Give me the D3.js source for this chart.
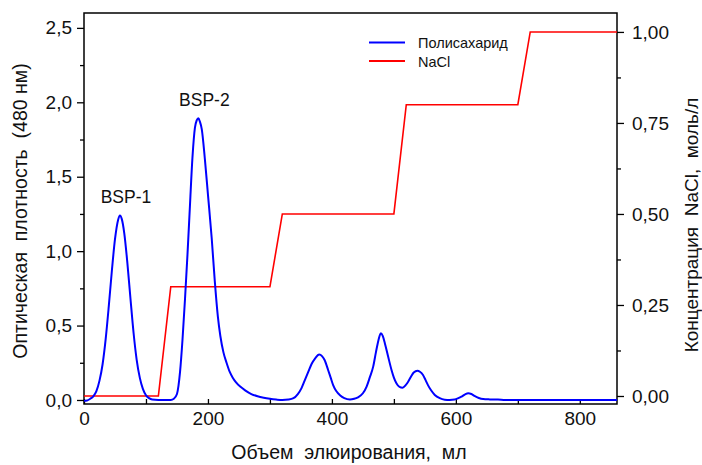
<!DOCTYPE html>
<html>
<head>
<meta charset="utf-8">
<script src="https://cdn.jsdelivr.net/npm/d3@7"></script>
<style>
  body { margin: 0; background: #fff; }
  text { font-family: "Liberation Sans", Arial, sans-serif; fill: #111; }
  .title { white-space: pre; }
</style>
</head>
<body>
<div id="chart"></div>
<script>
// elution volume (ml) and optical density of the polysaccharide
const volume = [0, 5, 10, 15, 20, 25, 30, 35, 40, 45, 50, 55, 58, 61, 65, 70, 75, 80, 85, 90, 95, 100, 105, 110, 120,
  130, 140, 145, 150, 155, 159, 163, 167, 171, 175, 179, 182, 184.5, 187, 190, 195, 200, 206, 211, 216, 220, 225, 230,
  235, 240, 245, 252, 260, 270, 280, 290, 300, 310, 320, 330, 338, 345, 351, 356, 362, 367, 373, 379.5, 384, 388, 394,
  398, 402, 407, 413, 420, 429, 436, 442, 450, 456, 461, 466.6, 471, 475, 479, 482, 485.5, 490.8, 496.3, 500, 504.3,
  509, 514, 519, 523, 528, 532, 538, 542, 547, 551, 555, 560, 566, 574, 582, 590, 598, 604, 609, 615, 620, 625, 630,
  637, 644, 655, 668, 680, 700, 860];
const density = [-0.005, -0.003, 0.008, 0.025, 0.06, 0.13, 0.24, 0.41, 0.63, 0.87, 1.08, 1.21, 1.24, 1.215, 1.12, 0.92,
  0.68, 0.45, 0.27, 0.15, 0.075, 0.032, 0.012, 0.003, 0,
  0, 0, 0.008, 0.04, 0.19, 0.41, 0.68, 0.98, 1.31, 1.63, 1.83, 1.88, 1.893, 1.87, 1.82, 1.62, 1.38, 1.09, 0.8, 0.56,
  0.43, 0.32, 0.25, 0.19, 0.15, 0.12, 0.09, 0.065, 0.04, 0.025, 0.015, 0.008, 0.003, 0, 0.003, 0.012, 0.04, 0.08,
  0.13, 0.19, 0.24, 0.28, 0.305, 0.295, 0.27, 0.2, 0.15, 0.1, 0.06, 0.032, 0.012, 0.003, 0.008, 0.018, 0.045, 0.09,
  0.15, 0.224, 0.32, 0.4, 0.448, 0.43, 0.38, 0.29, 0.2, 0.15, 0.11, 0.088, 0.083, 0.1, 0.123, 0.16, 0.185, 0.197,
  0.19, 0.168, 0.135, 0.1, 0.065, 0.034, 0.012, 0.002, 0, 0.003, 0.012, 0.022, 0.038, 0.045, 0.04, 0.027, 0.013,
  0.006, 0.004, 0.003, 0, 0, 0];

// NaCl step gradient
const naclVolume = [0, 120, 140, 300, 320, 500, 520, 700, 720, 860];
const naclConc = [0, 0, 0.3, 0.3, 0.5, 0.5, 0.8, 0.8, 1.0, 1.0];

const xTicks = [0, 100, 200, 300, 400, 500, 600, 700, 800];
const leftTicks = [0, 0.5, 1.0, 1.5, 2.0, 2.5];
const leftMinor = [0.25, 0.75, 1.25, 1.75, 2.25];
const rightTicks = [0, 0.25, 0.5, 0.75, 1.0];
const rightMinor = [0.125, 0.375, 0.625, 0.875];

const peakNames = ["BSP-1", "BSP-2"];
const peakAt = [[58, 1.24], [184.5, 1.893]];

let svgWidth = 702, svgHeight = 465;
let margin = {top: 13, right: 85, bottom: 61, left: 84};
let w = svgWidth - margin.left - margin.right;
let h = svgHeight - margin.top - margin.bottom;

let svg = d3.select("#chart").append("svg")
  .attr("width", svgWidth)
  .attr("height", svgHeight);
let g = svg.append("g").attr("transform", `translate(${margin.left},${margin.top})`);

let x = d3.scaleLinear().domain([0, 860]).range([0, w]);
let yL = d3.scaleLinear().domain([-0.027, 2.6]).range([h, 0]);
let yR = d3.scaleLinear().domain([-0.022, 1.052]).range([h, 0]);

const comma = f => d => d3.format(f)(d).replace(".", ",");

// left axis
g.append("g").call(d3.axisLeft(yL).tickValues(leftTicks).tickSize(7).tickPadding(5).tickFormat(comma(".1f")));
g.append("g").call(d3.axisLeft(yL).tickValues(leftMinor).tickSize(4).tickFormat(""));
// right axis
g.append("g").attr("transform", `translate(${w},0)`)
  .call(d3.axisRight(yR).tickValues(rightTicks).tickSize(7).tickPadding(8).tickFormat(comma(".2f")));
g.append("g").attr("transform", `translate(${w},0)`)
  .call(d3.axisRight(yR).tickValues(rightMinor).tickSize(4).tickFormat(""));
// bottom axis, ticks pointing inward
g.append("g").attr("transform", `translate(0,${h})`)
  .call(d3.axisBottom(x).tickValues(xTicks).tickSize(-5).tickPadding(8)
    .tickFormat(d => d % 200 === 0 ? d : ""));

g.selectAll(".domain").remove();
g.selectAll(".tick line").attr("stroke", "#000").attr("stroke-width", 1.3);
g.selectAll(".tick text").attr("font-size", "19px").attr("fill", "#111")
  .style("font-family", '"Liberation Sans", Arial, sans-serif');

// frame
g.append("rect").attr("width", w).attr("height", h)
  .attr("fill", "none").attr("stroke", "#000").attr("stroke-width", 1.5);

svg.append("clipPath").attr("id", "clip")
  .append("rect").attr("width", w).attr("height", h);

let naclLine = d3.line().x((d, i) => x(naclVolume[i])).y(d => yR(d));
g.append("path").datum(naclConc)
  .attr("clip-path", "url(#clip)")
  .attr("d", naclLine)
  .attr("fill", "none").attr("stroke", "#ff0000").attr("stroke-width", 1.6);

let odLine = d3.line().x((d, i) => x(volume[i])).y(d => yL(d)).curve(d3.curveMonotoneX);
g.append("path").datum(density)
  .attr("clip-path", "url(#clip)")
  .attr("d", odLine)
  .attr("fill", "none").attr("stroke", "#0000ff").attr("stroke-width", 2);

// peak labels
g.selectAll(".peak").data(peakNames).enter().append("text")
  .attr("x", (d, i) => x(peakAt[i][0]) + 6)
  .attr("y", (d, i) => yL(peakAt[i][1]) - 12)
  .attr("text-anchor", "middle")
  .attr("font-size", "17.5px")
  .text(d => d);

// legend
let legend = svg.append("g");
[["Полисахарид", "#0000ff", 42.5], ["NaCl", "#ff0000", 61]].forEach(([name, col, ly]) => {
  legend.append("line").attr("x1", 369).attr("x2", 405).attr("y1", ly).attr("y2", ly)
    .attr("stroke", col).attr("stroke-width", 2);
  legend.append("text").attr("x", 418).attr("y", ly + 5.5).attr("font-size", "14.5px").text(name);
});

// axis titles (double spaces kept as in the original)
svg.append("text").attr("class", "title")
  .attr("transform", "translate(27,211) rotate(-90)")
  .attr("text-anchor", "middle").attr("font-size", "19.5px")
  .text("Оптическая  плотность  (480 нм)");

svg.append("text").attr("class", "title")
  .attr("transform", "translate(698,225) rotate(-90)")
  .attr("text-anchor", "middle").attr("font-size", "19px")
  .text("Концентрация  NaCl,  моль/л");

svg.append("text").attr("class", "title")
  .attr("x", 349).attr("y", 459)
  .attr("text-anchor", "middle").attr("font-size", "19.5px")
  .text("Объем  элюирования,  мл");
</script>
</body>
</html>
